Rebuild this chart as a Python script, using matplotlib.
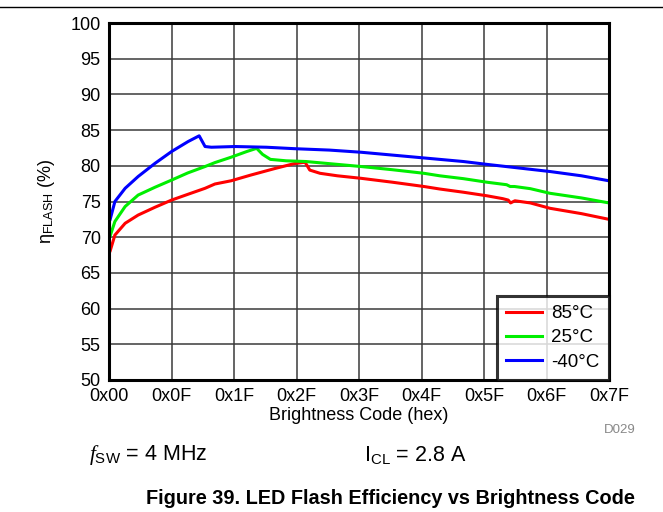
import matplotlib
matplotlib.use("Agg")
import matplotlib.pyplot as plt
import numpy as np

plt.rcParams['font.family'] = ['Liberation Sans', 'DejaVu Sans']
plt.rcParams['mathtext.fontset'] = 'custom'
plt.rcParams['mathtext.rm'] = 'Liberation Sans'
plt.rcParams['mathtext.it'] = 'Liberation Serif:italic'

# brightness code (decimal) and efficiency (%)
x85 = [0, 0.25, 1.5, 4.1, 7.4, 11.7, 15.9, 20, 24.4, 26.9, 31, 36, 42, 47, 49.8, 51, 53.6,
       58, 64, 72, 80, 84, 90, 96, 100, 101.4, 102, 103.1, 107, 112, 120, 127]
y85 = [67.8, 68.0, 70.3, 71.95, 73.1, 74.2, 75.2, 76.0, 76.85, 77.45, 77.9, 78.7, 79.6,
       80.3, 80.5, 79.4, 78.95, 78.6, 78.25, 77.7, 77.1, 76.75, 76.3, 75.8, 75.4, 75.2,
       74.8, 75.1, 74.8, 74.05, 73.3, 72.5]

x25 = [0, 0.25, 1.5, 4.1, 7.4, 11.7, 15.9, 20, 24.4, 26.9, 31, 35, 37.5, 39, 41, 45, 50,
       56, 64, 72, 80, 84, 90, 96, 101, 101.9, 103, 107, 112, 120, 127]
y25 = [69.9, 70.1, 72.2, 74.3, 75.9, 77.0, 78.0, 79.0, 79.9, 80.45, 81.2, 82.0, 82.45,
       81.6, 80.9, 80.7, 80.6, 80.3, 79.9, 79.45, 78.95, 78.6, 78.2, 77.7, 77.35, 77.1,
       77.1, 76.8, 76.15, 75.5, 74.8]

xm40 = [0, 0.25, 1.5, 4.1, 7.4, 11.7, 15.9, 20.1, 22.9, 24.4, 26, 32, 40, 47, 56, 64, 72,
        80, 84, 90, 96, 104, 112, 120, 127]
ym40 = [72.2, 72.4, 75.0, 76.85, 78.5, 80.35, 82.0, 83.4, 84.2, 82.7, 82.6, 82.7, 82.6,
        82.4, 82.2, 81.9, 81.5, 81.1, 80.9, 80.6, 80.2, 79.7, 79.2, 78.6, 77.9]

xlabels = ['0x00', '0x0F', '0x1F', '0x2F', '0x3F', '0x4F', '0x5F', '0x6F', '0x7F']
yticks = [50, 55, 60, 65, 70, 75, 80, 85, 90, 95, 100]

fig = plt.figure(figsize=(6.63, 5.12), dpi=100)
ax = fig.add_axes([109/663, 1-380/512, 500/663, 357/512])

ax.plot(x85, y85, color='#ff0000', lw=2.2, label='85°C')
ax.plot(x25, y25, color='#00ee00', lw=2.2, label='25°C')
ax.plot(xm40, ym40, color='#0000ff', lw=2.2, label='-40°C')

ax.set_xlim(0, 127)
ax.set_ylim(50, 100)
ax.set_xticks(np.linspace(0, 127, len(xlabels)))
ax.set_xticklabels(xlabels)
ax.set_yticks(yticks)
ax.tick_params(length=0, labelsize=13, pad=6)
ax.grid(True, color='#3a3a3a', lw=1.1)
for s in ax.spines.values():
    s.set_linewidth(2.2)
ax.set_xlabel('Brightness Code (hex)', fontsize=13, labelpad=1)
ax.set_ylabel(r'η$_{\mathrm{FLASH}}$ (%)', fontsize=13, labelpad=10)

leg = ax.legend(loc='lower right', fancybox=False, edgecolor='black', fontsize=13.5,
                borderaxespad=0, handlelength=1.9, handletextpad=0.5,
                labelspacing=0.38, borderpad=0.5)
leg.get_frame().set_linewidth(2.2)

fig.add_artist(plt.Line2D([0, 1], [1-7/512, 1-7/512], color='black', lw=1))
fig.text(620/663, 1-430/512, 'D029', color='#888888', fontsize=9.5, ha='center', va='center')
fig.text(89/663, 1-455/512, r'$\mathit{f}_{\mathrm{SW}}$ = 4 MHz', fontsize=15.5, va='center')
fig.text(364/663, 1-455/512, r'I$_{\mathrm{CL}}$ = 2.8 A', fontsize=15.5, va='center')
fig.text(390/663, 1-498/512, 'Figure 39. LED Flash Efficiency vs Brightness Code',
         fontsize=14.3, fontweight='bold', ha='center', va='center')

fig.savefig('out.png', dpi=100)
